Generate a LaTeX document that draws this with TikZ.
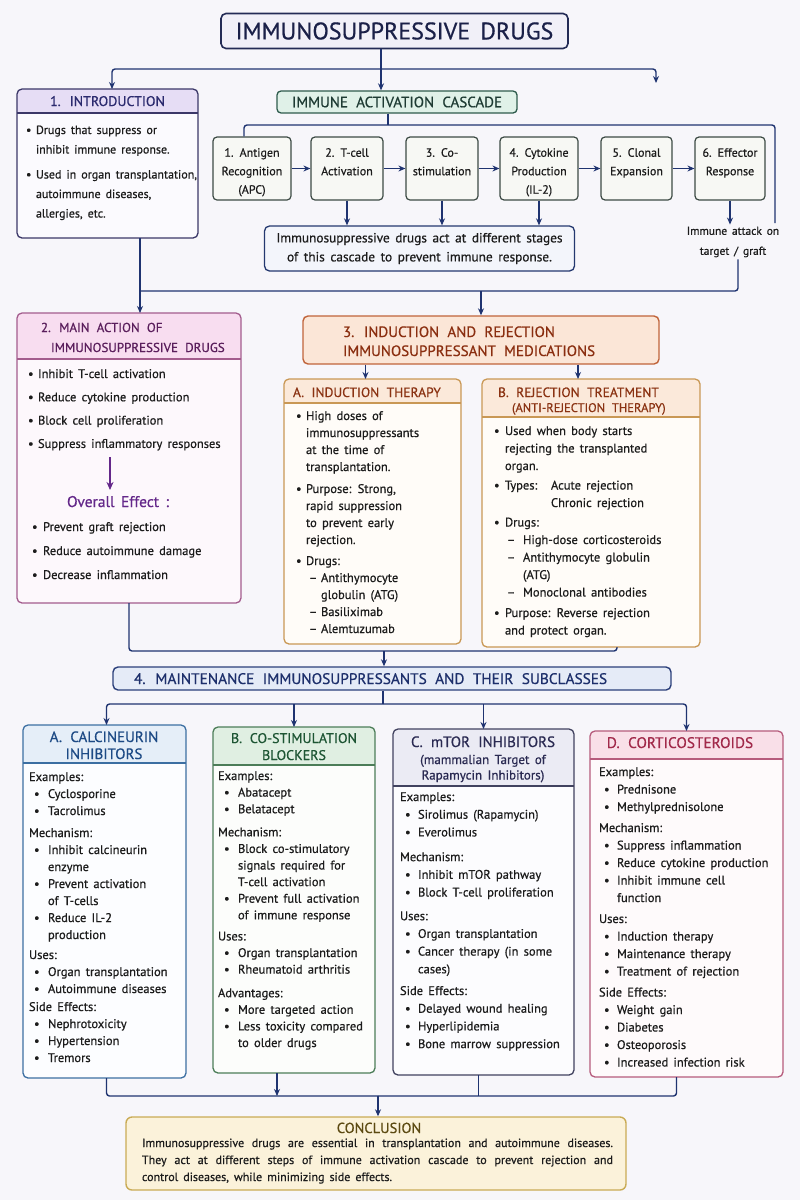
\documentclass[tikz,border=0pt]{standalone}
\usepackage{fontspec}
\setmainfont{PT Sans}[FakeBold=0.6]
\usetikzlibrary{arrows.meta}
\definecolor{cBg}{HTML}{F7F6FA}
\definecolor{cNavy}{HTML}{1F3370}
\definecolor{cBody}{HTML}{1C1C1C}
\definecolor{cTitleF}{HTML}{F1F0F8}\definecolor{cTitleB}{HTML}{232B55}\definecolor{cTitleT}{HTML}{1A2048}
\definecolor{cIntroB}{HTML}{3B3768}\definecolor{cIntroH}{HTML}{E6DDF5}\definecolor{cIntroT}{HTML}{2B2A6E}\definecolor{cIntroBody}{HTML}{FBFAFE}
\definecolor{cCasF}{HTML}{E0F1E8}\definecolor{cCasB}{HTML}{2E5B4C}\definecolor{cCasT}{HTML}{1E3B33}
\definecolor{cStepF}{HTML}{F7F8F4}\definecolor{cStepB}{HTML}{3C4A44}
\definecolor{cNoteF}{HTML}{F3F5FB}\definecolor{cNoteB}{HTML}{24386F}
\definecolor{cMainB}{HTML}{A35C8D}\definecolor{cMainH}{HTML}{F8DDF0}\definecolor{cMainT}{HTML}{5A1E5C}\definecolor{cMainBody}{HTML}{FDF8FC}\definecolor{cPurp}{HTML}{64288A}
\definecolor{cIndF}{HTML}{FBE6D7}\definecolor{cIndB}{HTML}{C0643A}\definecolor{cIndT}{HTML}{8A2E10}
\definecolor{cAbB}{HTML}{C99855}\definecolor{cAbH}{HTML}{FBE9DA}\definecolor{cAbBody}{HTML}{FFFCF8}\definecolor{cAbT}{HTML}{8A3212}
\definecolor{cMtF}{HTML}{E5EBF7}\definecolor{cMtB}{HTML}{2B3F7A}\definecolor{cMtT}{HTML}{1D2F6B}
\definecolor{cSaB}{HTML}{3C6FA2}\definecolor{cSaH}{HTML}{E5EEF8}\definecolor{cSaT}{HTML}{1D4A85}\definecolor{cSaBody}{HTML}{FCFDFF}
\definecolor{cSbB}{HTML}{4C7D58}\definecolor{cSbH}{HTML}{E0EFE2}\definecolor{cSbT}{HTML}{1D5533}\definecolor{cSbBody}{HTML}{FCFDFB}
\definecolor{cScB}{HTML}{41425F}\definecolor{cScH}{HTML}{EBEBF4}\definecolor{cScT}{HTML}{2A2A52}\definecolor{cScBody}{HTML}{FCFCFE}
\definecolor{cSdB}{HTML}{B65B7C}\definecolor{cSdH}{HTML}{F9DFE8}\definecolor{cSdT}{HTML}{A1294A}\definecolor{cSdBody}{HTML}{FEFAFB}
\definecolor{cCoF}{HTML}{FBF2DA}\definecolor{cCoB}{HTML}{C9AB55}\definecolor{cCoT}{HTML}{5C4A12}
\newlength\bw \newlength\bo
\newcommand\fsz[2]{\fontsize{#1}{#2}\selectfont\spaceskip=0.42em plus 0.4em minus 0.05em\relax}
\newcommand\hsz[2]{\fontsize{#1}{#2}\selectfont\spaceskip=0.55em plus 0.3em minus 0.05em\relax}
\newcommand\bu{\hspace*{\bo}\makebox[\bw][l]{\textbullet}}
\newcommand\contind{\hspace*{\dimexpr\bo+\bw\relax}}
\newcommand\leftpar[2]{\parbox[t]{#1}{\raggedright #2}}
\newcommand\centpar[2]{\parbox[t]{#1}{\centering #2}}
\newcommand\topstrut{\rule{0pt}{19pt}}
\newcommand\panel[9]{%
  \node[minimum width={#4-#2}, minimum height={#5-#3}, inner sep=0pt, outer sep=0pt] (#1) at ({(#2+#4)/2},{(#3+#5)/2}) {};
  \fill[#9, rounded corners=5pt] (#1.north west) rectangle (#1.south east);
  \begin{scope}
    \clip[rounded corners=5pt] (#1.north west) rectangle (#1.south east);
    \fill[#8] (#2,#3) rectangle (#4,#6);
  \end{scope}
  \draw[#7, line width=1.3pt] (#2,#6) -- (#4,#6);
  \draw[#7, line width=1.3pt, rounded corners=5pt] (#1.north west) rectangle (#1.south east);
}
\tikzset{
  conn/.style={draw=cNavy, line width=1.4pt},
  arr/.style={conn, -{Stealth[length=7pt,width=6pt]}},
  parr/.style={draw=cPurp, line width=1.4pt, -{Stealth[length=8pt,width=7pt]}},
  tx/.style={inner sep=0pt, outer sep=0pt, anchor=base west, text=cBody},
  hd/.style={inner sep=0pt, outer sep=0pt, anchor=base},
  stepbox/.style={draw=cStepB, fill=cStepF, line width=1.2pt, rounded corners=4pt, minimum height=63pt, inner sep=0pt, align=center, font={\fsz{12}{18.5}}, text=cBody},
}
\begin{document}
\begin{tikzpicture}[x=1pt,y=-1pt]
\fill[cBg] (0,0) rectangle (800,1200);
\useasboundingbox (0,0) rectangle (800,1200);

% title
\node[draw=cTitleB, fill=cTitleF, line width=1.6pt, rounded corners=5pt, minimum width=347pt, minimum height=35pt, inner sep=0pt, font={\fsz{24}{28}}, text=cTitleT] (title) at (394.5,31) {IMMUNOSUPPRESSIVE DRUGS};

% 1. introduction
\panel{intro}{17}{89}{198}{238}{113}{cIntroB}{cIntroH}{cIntroBody}
\node[hd, text=cIntroT] (introh) at (107.5,106) {\hsz{14}{16}1. INTRODUCTION};
\node[tx] (introb) at (26,134) {\leftpar{175pt}{\fsz{12}{19.5}\setlength\bw{10pt}\setlength\bo{0pt}%
\bu Drugs that suppress or\\ \contind inhibit immune response.\\[5.5pt]
\bu Used in organ transplantation,\\ \contind autoimmune diseases,\\ \contind allergies, etc.}};

% cascade
\node[draw=cCasB, fill=cCasF, line width=1.3pt, rounded corners=4pt, minimum width=240pt, minimum height=22pt, inner sep=0pt, text=cCasT, font={\hsz{15}{17}}] (cas) at (397,102) {IMMUNE ACTIVATION CASCADE};
\node[stepbox, minimum width=78pt] (s1) at (252,168.5) {\topstrut 1. Antigen\\\strut Recognition\\\strut (APC)};
\node[stepbox, minimum width=72pt] (s2) at (347,168.5) {\topstrut 2. T-cell\\\strut Activation\\\strut};
\node[stepbox, minimum width=72pt] (s3) at (442,168.5) {\topstrut 3. Co-\\\strut stimulation\\\strut};
\node[stepbox, minimum width=78pt] (s4) at (539,168.5) {\topstrut 4. Cytokine\\\strut Production\\\strut (IL-2)};
\node[stepbox, minimum width=71pt] (s5) at (636.5,168.5) {\topstrut 5. Clonal\\\strut Expansion\\\strut};
\node[stepbox, minimum width=70pt] (s6) at (730,168.5) {\topstrut 6. Effector\\\strut Response\\\strut};
\node[draw=cNoteB, fill=cNoteF, line width=1.3pt, rounded corners=5pt, minimum width=310pt, minimum height=45pt, inner sep=0pt, align=center, font={\fsz{13.3}{19}}, text=cBody] (note) at (419.5,248.5) {Immunosuppressive drugs act at different stages\\of this cascade to prevent immune response.};
\node[inner sep=2pt, align=center, font={\fsz{11.5}{20}}, text=cBody] (att) at (733,242) {Immune attack on\\target / graft};

% 2. main action
\panel{main}{17}{313}{241}{603}{359}{cMainB}{cMainH}{cMainBody}
\node[tx, text=cMainT] (mainh) at (41,332) {\leftpar{200pt}{\hsz{13}{20}2. MAIN ACTION OF\\\hspace*{10pt}IMMUNOSUPPRESSIVE DRUGS}};
\node[tx] (mainb) at (28,378) {\leftpar{210pt}{\fsz{12.5}{23.3}\setlength\bw{10pt}\setlength\bo{0pt}%
\bu Inhibit T-cell activation\\ \bu Reduce cytokine production\\ \bu Block cell proliferation\\ \bu Suppress inflammatory responses}};
\node[hd, inner sep=1pt, text=cPurp] (ovr) at (118,507) {\fsz{15.5}{17}Overall Effect :};
\node[tx] (mainc) at (32,531) {\leftpar{210pt}{\fsz{12.5}{24}\setlength\bw{11pt}\setlength\bo{0pt}%
\bu Prevent graft rejection\\ \bu Reduce autoimmune damage\\ \bu Decrease inflammation}};
\coordinate (pa) at (110,457);
\coordinate (pb) at ([yshift=5pt]pa |- ovr.north);
\draw[parr] (pa) -- (pb);

% 3. induction and rejection
\node[draw=cIndB, fill=cIndF, line width=1.4pt, rounded corners=5pt, minimum width=356pt, minimum height=48pt, inner sep=0pt] (ind) at (481,340) {};
\node[tx, text=cIndT] (indt) at (343,337) {\leftpar{320pt}{\hsz{15}{19}3. INDUCTION AND REJECTION\\IMMUNOSUPPRESSANT MEDICATIONS}};

\panel{indA}{284}{379}{461}{644}{403}{cAbB}{cAbH}{cAbBody}
\node[tx, text=cAbT] (indAh) at (293,397) {\hsz{13.5}{16}A. INDUCTION THERAPY};
\node[tx] (indAb) at (296,420) {\leftpar{170pt}{\fsz{12.5}{17}\setlength\bw{10pt}\setlength\bo{0pt}%
\bu High doses of\\ \contind immunosuppressants\\ \contind at the time of\\ \contind transplantation.\\[5pt]
\bu Purpose: Strong,\\ \contind rapid suppression\\ \contind to prevent early\\ \contind rejection.\\[4pt]
\bu Drugs:\\ \hspace*{13pt}\makebox[12pt][l]{--}Antithymocyte\\ \hspace*{25pt}globulin (ATG)\\ \hspace*{13pt}\makebox[12pt][l]{--}Basiliximab\\ \hspace*{13pt}\makebox[12pt][l]{--}Alemtuzumab}};

\panel{rej}{482}{379}{700}{647}{417}{cAbB}{cAbH}{cAbBody}
\node[tx, text=cAbT] (rejh) at (498,397) {\leftpar{200pt}{\hsz{13.5}{15}B. REJECTION TREATMENT\\\hspace*{14pt}{\hsz{12.5}{15}(ANTI-REJECTION THERAPY)}}};
\node[tx] (rejb) at (494,435) {\leftpar{210pt}{\fsz{12.5}{17.5}\setlength\bw{11pt}\setlength\bo{0pt}%
\bu Used when body starts\\ \contind rejecting the transplanted\\ \contind organ.\\[2pt]
\bu \makebox[46pt][l]{Types:}Acute rejection\\ \hspace*{57pt}Chronic rejection\\[2pt]
\bu Drugs:\\ \hspace*{13pt}\makebox[16pt][l]{--}High-dose corticosteroids\\ \hspace*{13pt}\makebox[16pt][l]{--}Antithymocyte globulin\\ \hspace*{29pt}(ATG)\\ \hspace*{13pt}\makebox[16pt][l]{--}Monoclonal antibodies\\[3pt]
\bu Purpose: Reverse rejection\\ \contind and protect organ.}};

% 4. maintenance
\node[draw=cMtB, fill=cMtF, line width=1.4pt, rounded corners=5pt, minimum width=558pt, minimum height=23pt, inner sep=0pt] (maint) at (392,678.5) {};
\node[tx, text=cMtT] (maintt) at (134,684) {\hsz{15.3}{17}4. MAINTENANCE IMMUNOSUPPRESSANTS AND THEIR SUBCLASSES};

\panel{sa}{23}{725}{186}{1078}{763}{cSaB}{cSaH}{cSaBody}
\node[hd, text=cSaT] (sah) at (104,742) {\centpar{160pt}{\hsz{15}{17}A. CALCINEURIN\\INHIBITORS}};
\node[tx] (sab) at (29,781) {\leftpar{160pt}{\fsz{12.5}{17}\setlength\bw{14pt}\setlength\bo{5pt}%
Examples:\\ \bu Cyclosporine\\ \bu Tacrolimus\\[5pt]
Mechanism:\\ \bu Inhibit calcineurin\\ \contind enzyme\\ \bu Prevent activation\\ \contind of T-cells\\ \bu Reduce IL-2\\ \contind production\\[3pt]
Uses:\\ \bu Organ transplantation\\ \bu Autoimmune diseases\\[1pt]
Side Effects:\\ \bu Nephrotoxicity\\ \bu Hypertension\\ \bu Tremors}};

\panel{sb}{213}{727}{375}{1073}{765}{cSbB}{cSbH}{cSbBody}
\node[hd, text=cSbT] (sbh) at (294,743) {\centpar{160pt}{\hsz{14}{17}B. CO-STIMULATION\\BLOCKERS}};
\node[tx] (sbb) at (218,780) {\leftpar{160pt}{\fsz{12.5}{16.6}\setlength\bw{14pt}\setlength\bo{6pt}%
Examples:\\ \bu Abatacept\\ \bu Belatacept\\[6.5pt]
Mechanism:\\ \bu Block co-stimulatory\\ \contind signals required for\\ \contind T-cell activation\\ \bu Prevent full activation\\ \contind of immune response\\[4.5pt]
Uses:\\ \bu Organ transplantation\\ \bu Rheumatoid arthritis\\[7pt]
Advantages:\\ \bu More targeted action\\ \bu Less toxicity compared\\ \contind to older drugs}};

\panel{sc}{393}{729}{574}{1075}{786}{cScB}{cScH}{cScBody}
\node[hd, text=cScT] (sch) at (483,747) {\centpar{178pt}{\hsz{15}{17}C. mTOR INHIBITORS\\[1.5pt]\fsz{13}{15.5}(mammalian Target of\\Rapamycin Inhibitors)}};
\node[tx] (scb) at (400,801) {\leftpar{175pt}{\fsz{12.5}{17.7}\setlength\bw{13pt}\setlength\bo{5pt}%
Examples:\\ \bu Sirolimus (Rapamycin)\\ \bu Everolimus\\[7pt]
Mechanism:\\ \bu Inhibit mTOR pathway\\ \bu Block T-cell proliferation\\[6pt]
Uses:\\ \bu Organ transplantation\\ \bu Cancer therapy (in some\\ \contind cases)\\[4pt]
Side Effects:\\ \bu Delayed wound healing\\ \bu Hyperlipidemia\\ \bu Bone marrow suppression}};

\panel{sd}{590}{731}{783}{1077}{759}{cSdB}{cSdH}{cSdBody}
\node[hd, text=cSdT] (sdh) at (680,748) {\hsz{15.3}{17}D. CORTICOSTEROIDS};
\node[tx] (sdb) at (599,776) {\leftpar{185pt}{\fsz{12.5}{17.5}\setlength\bw{13pt}\setlength\bo{5pt}%
Examples:\\ \bu Prednisone\\ \bu Methylprednisolone\\[3.5pt]
Mechanism:\\ \bu Suppress inflammation\\ \bu Reduce cytokine production\\ \bu Inhibit immune cell\\ \contind function\\[3.5pt]
Uses:\\ \bu Induction therapy\\ \bu Maintenance therapy\\ \bu Treatment of rejection\\[3.5pt]
Side Effects:\\ \bu Weight gain\\ \bu Diabetes\\ \bu Osteoporosis\\ \bu Increased infection risk}};

% conclusion
\node[draw=cCoB, fill=cCoF, line width=1.4pt, rounded corners=6pt, minimum width=500pt, minimum height=73pt, inner sep=0pt] (concl) at (376,1153.5) {};
\node[hd, text=cCoT] (conclt) at (379,1133) {\hsz{14.5}{16}CONCLUSION};
\node[tx] (conclb) at (142,1147) {\parbox[t]{471pt}{\fsz{12}{17}Immunosuppressive drugs are essential in transplantation and autoimmune diseases.\linebreak They act at different steps of immune activation cascade to prevent rejection and\linebreak control diseases, while minimizing side effects.}};

% ---------- connectors ----------
\coordinate (j1) at (381,69);
\coordinate (tl) at (112,69);
\coordinate (tr) at (656,83);
\draw[arr] (title.south -| j1) -- (cas.north -| j1);
\draw[arr, rounded corners=3pt] (j1) -| (intro.north -| tl);
\draw[arr, rounded corners=3pt] (j1) -| (tr);

\coordinate (j2) at (388,125);
\coordinate (rend) at (775,223);
\coordinate (s1t) at ([xshift=-8pt]s1.north);
\draw[conn] (cas.south -| j2) -- (j2);
\draw[conn, rounded corners=3pt] (j2) -| (s1t);
\draw[conn, rounded corners=3pt] (j2) -| (rend);

\draw[arr] (s1) -- (s2);
\draw[arr] (s2) -- (s3);
\draw[arr] (s3) -- (s4);
\draw[arr] (s4) -- (s5);
\draw[arr] (s5) -- (s6);
\draw[arr] (s2.south) -- (s2.south |- note.north);
\draw[arr] (s3.south) -- (s3.south |- note.north);
\draw[arr] (s4.south) -- (s4.south |- note.north);
\draw[arr] (s6.south) -- (s6.south |- att.north);

\coordinate (j3) at (140,291);
\coordinate (j4) at (738,291);
\draw[arr] (intro.south -| j3) -- (main.north -| j3);
\draw[conn, rounded corners=3pt] (att.south -| j4) -- (j4) -- (j3);
\draw[arr] (ind.north |- j3) -- (ind.north);

\coordinate (iat) at ([xshift=-7pt]indA.north);
\coordinate (rjt) at ([xshift=-13pt]rej.north);
\draw[arr] (iat |- ind.south) -- (iat);
\draw[arr] (rjt |- ind.south) -- (rjt);

\coordinate (j5) at (384,651);
\coordinate (rjb) at ([xshift=26pt]rej.south);
\draw[conn, rounded corners=3pt] (main.south) |- (j5) -| (rjb);
\draw[arr] (j5) -- (maint.north -| j5);

\coordinate (j6) at (383,704);
\coordinate (sat) at ([xshift=2pt]sa.north);
\draw[conn] (maint.south -| j6) -- (j6);
\draw[arr, rounded corners=3pt] (j6) -| (sat);
\draw[arr] (sb.north |- j6) -- (sb.north);
\draw[arr] (sc.north |- j6) -- (sc.north);
\draw[arr, rounded corners=3pt] (j6) -| (sd.north);

\coordinate (j7) at (378,1096);
\coordinate (sab0) at ([xshift=2pt]sa.south);
\coordinate (sbb0) at ([xshift=-17pt]sb.south);
\coordinate (scb0) at ([xshift=-5pt]sc.south);
\coordinate (sdb0) at ([xshift=-10pt]sd.south);
\draw[conn, rounded corners=3pt] (sab0) |- (j7);
\draw[conn, rounded corners=3pt] (sdb0) |- (j7);
\draw[arr] (sbb0) -- (sbb0 |- j7);
\draw[conn] (scb0) -- (scb0 |- j7);
\draw[arr] (j7) -- (concl.north -| j7);
\end{tikzpicture}
\end{document}
